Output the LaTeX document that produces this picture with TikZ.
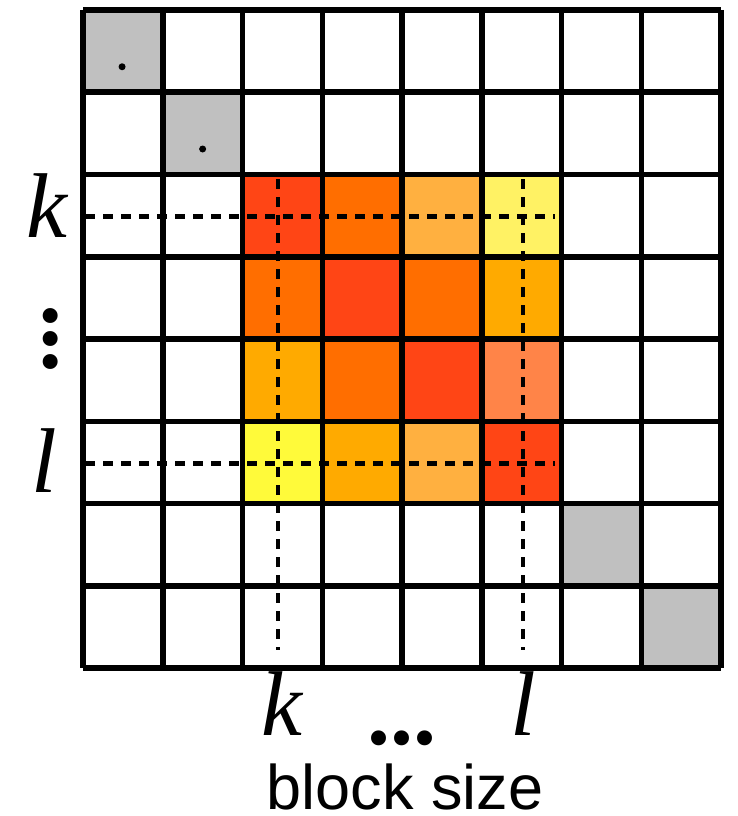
\documentclass[tikz,border=0pt]{standalone}
\usepackage{fontspec}
\setmainfont{Liberation Serif}
\setsansfont{Liberation Sans}
\usetikzlibrary{calc}

% cell colours
\definecolor{cellred}{HTML}{FF4515}
\definecolor{cellorange}{HTML}{FF6E00}
\definecolor{cellamber}{HTML}{FFAA00}
\definecolor{celllight}{HTML}{FFB040}
\definecolor{cellsalmon}{HTML}{FF8448}
\definecolor{cellpale}{HTML}{FFF264}
\definecolor{cellyellow}{HTML}{FFFA3A}
\definecolor{cellgray}{HTML}{C0C0C0}

\begin{document}
\begin{tikzpicture}[x=79.75pt, y=-82.25pt,
  gridline/.style={line width=5.5pt, black},
  guide/.style={line width=4.6pt, black, dash pattern=on 10pt off 8pt},
  idx/.style={font=\fontsize{92}{92}\selectfont\itshape, anchor=base, inner sep=0pt},
  dots/.style={font=\fontsize{92}{92}\selectfont\bfseries, anchor=base, inner sep=0pt},
  caption/.style={font=\fontsize{63}{63}\selectfont\sffamily, anchor=base, inner sep=0pt}]
  \useasboundingbox (-1.0408,-0.1216) rectangle (8.2006,9.7994);

  % Diagonal cells
  \fill[cellgray] (0,0) rectangle (1,1);
  \fill[cellgray] (1,1) rectangle (2,2);
  \fill[cellgray] (6,6) rectangle (7,7);
  \fill[cellgray] (7,7) rectangle (8,8);

  % Block k..l
  \foreach \c [count=\i from 2] in {cellred,cellorange,celllight,cellpale}
    \fill[\c] (\i,2) rectangle ++(1,1);
  \foreach \c [count=\i from 2] in {cellorange,cellred,cellorange,cellamber}
    \fill[\c] (\i,3) rectangle ++(1,1);
  \foreach \c [count=\i from 2] in {cellamber,cellorange,cellred,cellsalmon}
    \fill[\c] (\i,4) rectangle ++(1,1);
  \foreach \c [count=\i from 2] in {cellyellow,cellamber,celllight,cellred}
    \fill[\c] (\i,5) rectangle ++(1,1);

  % Grid
  \foreach \i in {0,...,8} {
    \draw[gridline] (\i,0) -- (\i,8);
    \draw[gridline] (0,\i) -- (8,\i);
  }

  % Dots in the first diagonal cells
  \fill (0.49,0.69) circle (3.5pt);
  \fill (1.5,1.69) circle (3.5pt);

  % Guides for k and l
  \coordinate (Kh) at (0.03,2.51);
  \coordinate (Lh) at (0.03,5.51);
  \coordinate (Kv) at (2.445,2.06);
  \coordinate (Lv) at (5.517,2.06);
  \draw[guide] (Kh) -- (5.92,2.51);
  \draw[guide] (Lh) -- (5.92,5.51);
  \draw[guide] (Kv) -- (2.445,7.78);
  \draw[guide] (Lv) -- (5.517,7.78);

  % Labels
  \node[idx] (rowk) at (-0.458,2.772) {k};
  \node[dots, rotate=-90, anchor=center] (rowdots) at (-0.40,4.0) {...};
  \node[idx] (rowl) at (-0.489,5.872) {l};
  \node[idx] (colk) at (2.495,8.815) {k};
  \node[dots] (coldots) at (4.0,8.924) {...};
  \node[idx] (coll) at (5.517,8.815) {l};
  \node[caption] (label) at (4.04,9.72) {block size};
\end{tikzpicture}
\end{document}
